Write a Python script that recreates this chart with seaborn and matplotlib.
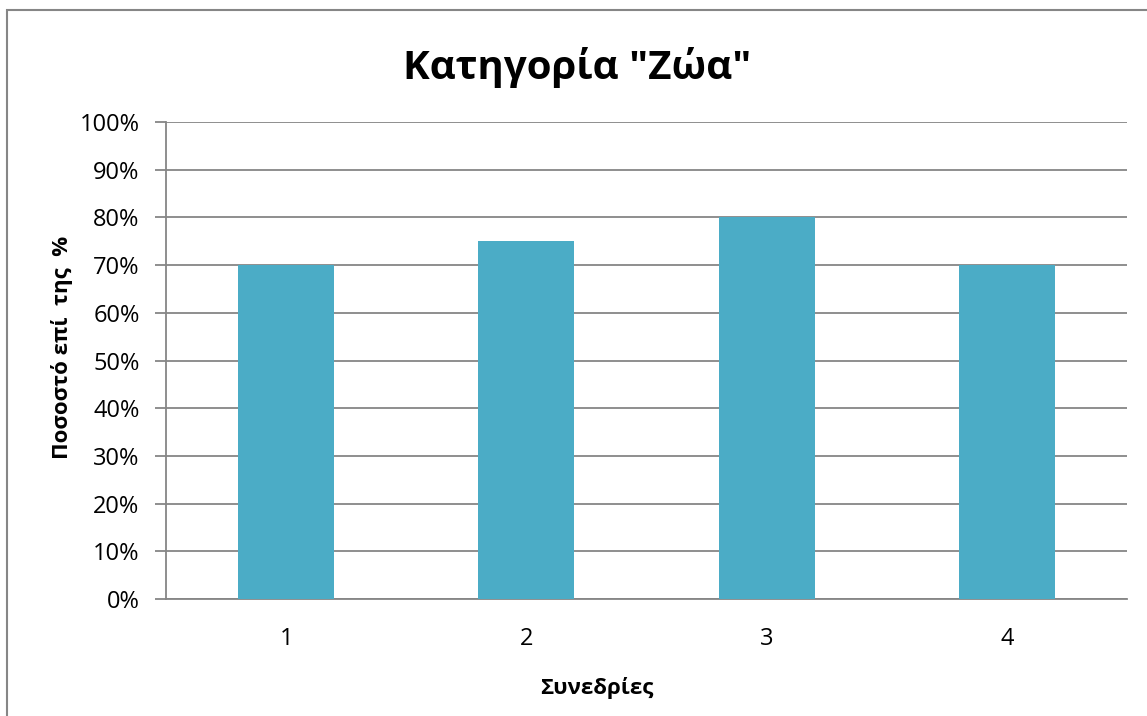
import matplotlib
matplotlib.use("Agg")
import matplotlib.pyplot as plt
import seaborn as sns
import pandas as pd
from matplotlib.patches import Rectangle


# Data

sessions = ["1", "2", "3", "4"]
percent = [70, 75, 80, 70]
y_ticks = [0, 10, 20, 30, 40, 50, 60, 70, 80, 90, 100]
y_tick_labels = [f"{v}%" for v in y_ticks]

title = 'Κατηγορία "Ζώα"'
x_label = "Συνεδρίες"
y_label = "Ποσοστό επί  της  %"

df = pd.DataFrame({"session": sessions, "percent": percent})


# Style

sns.set_theme(style="white")
plt.rcParams["font.family"] = ["Open Sans", "DejaVu Sans"]
plt.rcParams["text.color"] = "black"

grid_color = "#868686"
bar_color = "#4BACC6"

W, H = 1147, 716
fig = plt.figure(figsize=(W / 100, H / 100), dpi=100)
ax = fig.add_axes([166 / W, 1 - 599 / H, (1127 - 166) / W, (599 - 122) / H])


# Graph : Bars

sns.barplot(data=df, x="session", y="percent", color=bar_color,
            width=0.4, saturation=1, linewidth=0, ax=ax, zorder=3)

ax.set_ylim(0, 100)
ax.set_xlim(-0.5, 3.5)
ax.set_yticks(y_ticks)
ax.set_yticklabels(y_tick_labels, fontsize=17, color="black")
ax.tick_params(axis="y", left=True, direction="out", length=8, width=1.3,
               color=grid_color, pad=11)
ax.tick_params(axis="x", bottom=False, length=0, labelsize=17,
               labelcolor="black", pad=20)

ax.yaxis.grid(True, color=grid_color, linewidth=1.3, zorder=0)
ax.set_axisbelow(True)
for side in ["top", "right"]:
    ax.spines[side].set_visible(False)
for side in ["left", "bottom"]:
    ax.spines[side].set_color(grid_color)
    ax.spines[side].set_linewidth(1.3)

ax.set_xlabel("")
ax.set_ylabel("")


# Texts

fig.text(577 / W, 1 - 68 / H, title, ha="center", va="center",
         fontsize=29, fontweight="bold", color="black")
fig.text(597 / W, 1 - 688 / H, x_label, ha="center", va="center",
         fontsize=16, fontweight="bold", color="black")
fig.text(62 / W, 1 - 347 / H, y_label, ha="center", va="center",
         fontsize=16, fontweight="bold", rotation=90, color="black")


# Chart border

fig.patches.append(Rectangle((7 / W, -0.1), 1.2, 1 - 10 / H + 0.1,
                             transform=fig.transFigure, fill=False,
                             edgecolor=grid_color, linewidth=1.5))

fig.savefig("out.png", dpi=100)
